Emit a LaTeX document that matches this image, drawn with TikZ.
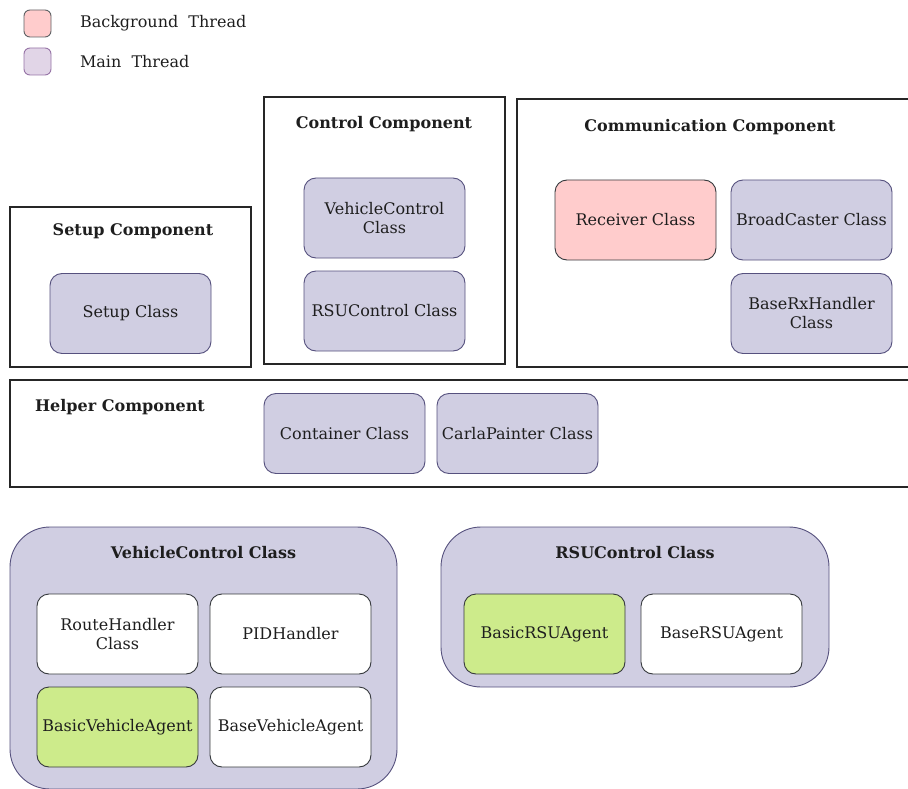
\documentclass[tikz,border=0pt]{standalone}
\usepackage{fontspec}
\setmainfont{DejaVu Serif}
\definecolor{mainfill}{HTML}{D0CEE2}
\definecolor{maindraw}{HTML}{56517E}
\definecolor{bgfill}{HTML}{FFCCCC}
\definecolor{bgdraw}{HTML}{36393D}
\definecolor{agentfill}{HTML}{CDEB8B}
\definecolor{legmain}{HTML}{E1D5E7}
\definecolor{legmaindraw}{HTML}{9673A6}
\definecolor{txt}{HTML}{1E1E1E}
\begin{document}
\begin{tikzpicture}[x=1pt,y=-1pt,
  every node/.style={inner sep=0pt, outer sep=0pt, text=txt},
  compbox/.style={draw=black!85, line width=1.2pt, fill=white},
  cls/.style={draw=maindraw, fill=mainfill, rounded corners=12pt, line width=0.9pt,
    minimum width=161pt, minimum height=80pt, align=center,
    font=\fontsize{16}{19}\selectfont},
  bgcls/.style={cls, draw=bgdraw, fill=bgfill},
  agent/.style={cls, draw=bgdraw, fill=agentfill},
  plain/.style={cls, draw=bgdraw, fill=white},
  bigcls/.style={draw=maindraw, fill=mainfill, rounded corners=40pt, line width=0.9pt},
  ttl/.style={font=\fontsize{16}{19}\selectfont\bfseries},
  legbox/.style={rounded corners=6pt, line width=0.9pt, minimum width=27pt, minimum height=27pt},
  legtxt/.style={anchor=west, font=\fontsize{16}{19}\selectfont}]
\useasboundingbox (0,0) rectangle (908,789);
\clip (0,0) rectangle (908,789);

% legend
\node[legbox, draw=bgdraw!80, fill=bgfill] (legbg) at (37.5,23.5) {};
\node[legtxt] (legbgtxt) at (80,23.5) {Background~~Thread};
\node[legbox, draw=legmaindraw, fill=legmain] (legmain) at (37.5,61.5) {};
\node[legtxt] (legmaintxt) at (80,61.5) {Main~~Thread};

% setup component
\draw[compbox] (10,207) rectangle (251,367);
\node[ttl] (setupttl) at (133,231) {Setup Component};
\node[cls] (setup) at (130.5,313.5) {Setup Class};

% control component
\draw[compbox] (264,97) rectangle (505,364);
\node[ttl] (ctrlttl) at (384,124) {Control Component};
\node[cls] (vcc) at (384.5,218) {VehicleControl\\Class};
\node[cls] (rsucc) at (384.5,311) {RSUControl Class};

% communication component
\draw[compbox] (517,99) rectangle (930,367);
\node[ttl] (commttl) at (710,127) {Communication Component};
\node[bgcls] (recv) at (635.5,220) {Receiver Class};
\node[cls] (bcast) at (811.5,220) {BroadCaster Class};
\node[cls] (rxh) at (811.5,313.5) {BaseRxHandler\\Class};

% helper component
\draw[compbox] (10,380) rectangle (930,487);
\node[ttl] (helpttl) at (120,407) {Helper Component};
\node[cls] (cont) at (344.5,433.5) {Container Class};
\node[cls] (paint) at (517.5,433.5) {CarlaPainter Class};

% VehicleControl class detail
\draw[bigcls] (10,527) rectangle (397,789);
\node[ttl] (vcttl) at (203.5,553) {VehicleControl Class};
\node[plain] (route) at (117.5,634) {RouteHandler\\Class};
\node[plain] (pid) at (290.5,634) {PIDHandler};
\node[agent] (bva) at (117.5,727) {BasicVehicleAgent};
\node[plain] (baseva) at (290.5,727) {BaseVehicleAgent};

% RSUControl class detail
\draw[bigcls] (441,527) rectangle (829,687);
\node[ttl] (rsuttl) at (635,553) {RSUControl Class};
\node[agent] (bra) at (544.5,634) {BasicRSUAgent};
\node[plain] (basera) at (721.5,634) {BaseRSUAgent};
\end{tikzpicture}
\end{document}
